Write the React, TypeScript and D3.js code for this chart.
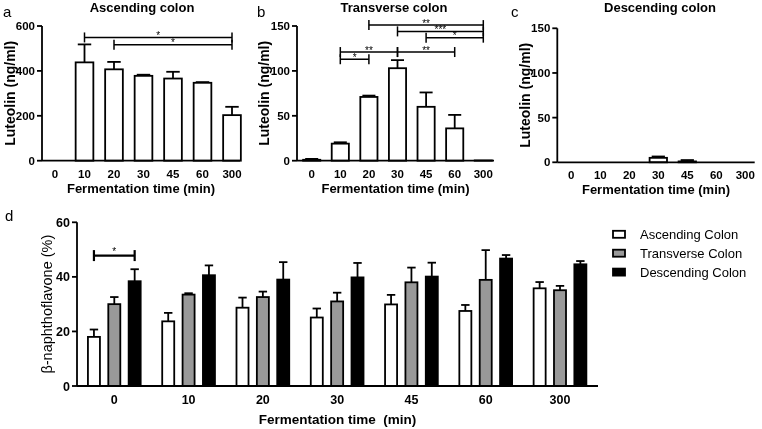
import React from "react";
import * as d3 from "d3";

const timeCats = ["0", "10", "20", "30", "45", "60", "300"];

// Panel a – Ascending colon (ng/ml)
const ascMean = [0, 438, 407, 378, 366, 347, 203];
const ascSd = [0, 80, 33, 5, 30, 3, 37];
const ascTicks = [0, 200, 400, 600];
const ascSig = [
  { from: "10", to: "300", level: 549, label: "*" },
  { from: "20", to: "300", level: 517, label: "*" },
];

// Panel b – Transverse colon
const trMean = [1, 19, 71, 103, 60, 36, 0.3];
const trSd = [1, 1.5, 1.5, 9, 16, 15, 0];
const trTicks = [0, 50, 100, 150];
const trSig = [
  { from: "20", to: "300", level: 151, label: "**" },
  { from: "30", to: "300", level: 144, label: "***" },
  { from: "45", to: "300", level: 137, label: "*" },
  { from: "10", to: "30", level: 121, label: "**" },
  { from: "30", to: "60", level: 121, label: "**" },
  { from: "10", to: "20", level: 113, label: "*" },
];

// Panel c – Descending colon
const deMean = [0, 0, 0, 5, 1, 0, 0];
const deSd = [0, 0, 0, 1.5, 1.5, 0, 0];
const deTicks = [0, 50, 100, 150];

// Panel d – β-naphthoflavone (%)
const seriesNames = ["Ascending Colon", "Transverse Colon", "Descending Colon"];
const seriesFill = ["#ffffff", "#999999", "#000000"];
const dAsc = [18, 23.7, 28.7, 25.1, 29.9, 27.5, 35.8];
const dAscSd = [2.7, 3.1, 3.7, 3.3, 3.5, 2.2, 2.3];
const dTr = [30, 33.5, 32.6, 31, 38, 38.9, 35.1];
const dTrSd = [2.6, 0.5, 2, 3.2, 5.4, 10.9, 1.6];
const dDe = [38.4, 40.6, 39, 39.8, 40.1, 46.7, 44.6];
const dDeSd = [4.4, 3.6, 6.4, 5.3, 5.1, 1.3, 1.2];
const dTicks = [0, 20, 40, 60];
const dSig = [{ group: "0", from: 0, to: 2, level: 47.8, label: "*" }];

const FONT = "'Liberation Sans', Arial, sans-serif";
const SW = 1.8;

type Sig = { from: string; to: string; level: number; label: string };

function Panel(props: {
  letter: string;
  title: string;
  mean: number[];
  sd: number[];
  ticks: number[];
  sig: Sig[];
  axisX: number;
  axisEnd: number;
  firstC: number;
  lastC: number;
  yTop: number;
  yBot: number;
  yMax: number;
  letterX: number;
  titleX: number;
  yLabelX: number;
}) {
  const p = props;
  const step = (p.lastC - p.firstC) / (timeCats.length - 1);
  const x = d3
    .scaleBand<string>()
    .domain(timeCats)
    .range([p.firstC - step / 2, p.lastC + step / 2])
    .paddingInner(0.4)
    .paddingOuter(0.2);
  const y = d3.scaleLinear().domain([0, p.yMax]).range([p.yBot, p.yTop]);
  const bw = x.bandwidth();
  const cx = (c: string) => (x(c) as number) + bw / 2;
  return (
    <g>
      <text x={p.letterX} y={17} fontSize={15} fontFamily={FONT}>
        {p.letter}
      </text>
      <text x={p.titleX} y={12} fontSize={13} fontWeight="bold" fontFamily={FONT} textAnchor="middle">
        {p.title}
      </text>
      {timeCats.map((c, i) => {
        const v = p.mean[i];
        if (v <= 0) return null;
        const top = y(v);
        const eTop = y(v + p.sd[i]);
        const x0 = x(c) as number;
        return (
          <g key={c}>
            {p.sd[i] > 0 && (
              <g stroke="#000" strokeWidth={SW}>
                <line x1={cx(c)} x2={cx(c)} y1={top} y2={eTop} />
                <line x1={cx(c) - bw * 0.38} x2={cx(c) + bw * 0.38} y1={eTop} y2={eTop} />
              </g>
            )}
            <rect x={x0} y={top} width={bw} height={p.yBot - top} fill="#fff" stroke="#000" strokeWidth={SW} />
          </g>
        );
      })}
      {/* axes */}
      <line x1={p.axisX} x2={p.axisX} y1={y(p.yMax)} y2={p.yBot} stroke="#000" strokeWidth={SW} />
      <line x1={p.axisX} x2={p.axisEnd} y1={p.yBot} y2={p.yBot} stroke="#000" strokeWidth={SW} />
      {p.ticks.map((t) => (
        <g key={t}>
          <line x1={p.axisX - 5} x2={p.axisX} y1={y(t)} y2={y(t)} stroke="#000" strokeWidth={SW} />
          <text
            x={p.axisX - 7}
            y={y(t)}
            dy="0.36em"
            textAnchor="end"
            fontSize={11.5}
            fontWeight="bold"
            fontFamily={FONT}
          >
            {t}
          </text>
        </g>
      ))}
      {timeCats.map((c) => (
        <text key={c} x={cx(c)} y={p.yBot + 17} textAnchor="middle" fontSize={11.5} fontWeight="bold" fontFamily={FONT}>
          {c}
        </text>
      ))}
      <text
        x={(p.axisX + p.axisEnd) / 2}
        y={p.yBot + 32}
        textAnchor="middle"
        fontSize={13}
        fontWeight="bold"
        fontFamily={FONT}
      >
        Fermentation time (min)
      </text>
      <text
        transform={`translate(${p.yLabelX},${(p.yTop + p.yBot) / 2}) rotate(-90)`}
        textAnchor="middle"
        dy="0.36em"
        fontSize={14}
        fontWeight="bold"
        fontFamily={FONT}
      >
        Luteolin (ng/ml)
      </text>
      {p.sig.map((s, i) => {
        const yy = y(s.level);
        const x1 = cx(s.from);
        const x2 = cx(s.to);
        return (
          <g key={i}>
            <g stroke="#000" strokeWidth={1.5}>
              <line x1={x1} x2={x2} y1={yy} y2={yy} />
              <line x1={x1} x2={x1} y1={yy - 5} y2={yy + 5} />
              <line x1={x2} x2={x2} y1={yy - 5} y2={yy + 5} />
            </g>
            <text x={(x1 + x2) / 2} y={yy + 1.5} textAnchor="middle" fontSize={10} fontFamily={FONT} fill="#000">
              {s.label}
            </text>
          </g>
        );
      })}
    </g>
  );
}

function PanelD() {
  const axisX = 77;
  const axisEnd = 598;
  const firstC = 114.3;
  const lastC = 560;
  const yTop = 222.3;
  const yBot = 386;
  const step = (lastC - firstC) / (timeCats.length - 1);
  const x0 = d3
    .scaleBand<string>()
    .domain(timeCats)
    .range([firstC - step / 2, lastC + step / 2])
    .paddingInner(0.29)
    .paddingOuter(0.145);
  const x1 = d3
    .scaleBand<number>()
    .domain([0, 1, 2])
    .range([0, x0.bandwidth()])
    .paddingInner(0.41)
    .paddingOuter(0);
  const y = d3.scaleLinear().domain([0, 60]).range([yBot, yTop]);
  const means = [dAsc, dTr, dDe];
  const sds = [dAscSd, dTrSd, dDeSd];
  const bw = x1.bandwidth();
  return (
    <g>
      <text x={5} y={221} fontSize={15} fontFamily={FONT}>
        d
      </text>
      {timeCats.map((c, i) => (
        <g key={c} transform={`translate(${x0(c)},0)`}>
          {[0, 1, 2].map((s) => {
            const v = means[s][i];
            const top = y(v);
            const eTop = y(v + sds[s][i]);
            const bx = x1(s) as number;
            const mx = bx + bw / 2;
            return (
              <g key={s}>
                <g stroke="#000" strokeWidth={SW}>
                  <line x1={mx} x2={mx} y1={top} y2={eTop} />
                  <line x1={mx - bw * 0.35} x2={mx + bw * 0.35} y1={eTop} y2={eTop} />
                </g>
                <rect x={bx} y={top} width={bw} height={yBot - top} fill={seriesFill[s]} stroke="#000" strokeWidth={SW} />
              </g>
            );
          })}
        </g>
      ))}
      <line x1={axisX} x2={axisX} y1={yTop} y2={yBot} stroke="#000" strokeWidth={SW} />
      <line x1={axisX} x2={axisEnd} y1={yBot} y2={yBot} stroke="#000" strokeWidth={SW} />
      {dTicks.map((t) => (
        <g key={t}>
          <line x1={axisX - 5} x2={axisX} y1={y(t)} y2={y(t)} stroke="#000" strokeWidth={SW} />
          <text x={axisX - 7} y={y(t)} dy="0.36em" textAnchor="end" fontSize={12.5} fontWeight="bold" fontFamily={FONT}>
            {t}
          </text>
        </g>
      ))}
      {timeCats.map((c) => (
        <text
          key={c}
          x={(x0(c) as number) + x0.bandwidth() / 2}
          y={404}
          textAnchor="middle"
          fontSize={12.5}
          fontWeight="bold"
          fontFamily={FONT}
        >
          {c}
        </text>
      ))}
      <text x={337.5} y={424} textAnchor="middle" fontSize={13.5} fontWeight="bold" fontFamily={FONT} style={{ whiteSpace: "pre" }}>
        {"Fermentation time  (min)"}
      </text>
      <text
        transform={`translate(47,${(yTop + yBot) / 2}) rotate(-90)`}
        textAnchor="middle"
        dy="0.36em"
        fontSize={14.5}
        fontFamily={FONT}
      >
        β-naphthoflavone (%)
      </text>
      {dSig.map((s, i) => {
        const g = x0(s.group) as number;
        const xa = g + (x1(s.from) as number) + bw / 2;
        const xb = g + (x1(s.to) as number) + bw / 2;
        const yy = y(s.level);
        return (
          <g key={i}>
            <g stroke="#000" strokeWidth={2.2}>
              <line x1={xa} x2={xb} y1={yy} y2={yy} />
              <line x1={xa} x2={xa} y1={yy - 5.5} y2={yy + 5.5} />
              <line x1={xb} x2={xb} y1={yy - 5.5} y2={yy + 5.5} />
            </g>
            <text x={(xa + xb) / 2} y={yy - 1} textAnchor="middle" fontSize={10} fontFamily={FONT}>
              {s.label}
            </text>
          </g>
        );
      })}
      {seriesNames.map((n, i) => {
        const ly = 234.3 + i * 18.9;
        return (
          <g key={n}>
            <rect x={613} y={ly - 3.5} width={12} height={7} fill={seriesFill[i]} stroke="#000" strokeWidth={SW} />
            <text x={640} y={ly} dy="0.36em" fontSize={13} fontFamily={FONT}>
              {n}
            </text>
          </g>
        );
      })}
    </g>
  );
}

export default function App() {
  return (
    <svg
      width={762}
      height={429}
      style={{ position: "absolute", left: 0, top: 0, background: "#fff", willChange: "transform" }}
    >
      <rect width={762} height={429} fill="#fff" />
      <Panel
        letter="a"
        title="Ascending colon"
        mean={ascMean}
        sd={ascSd}
        ticks={ascTicks}
        sig={ascSig}
        axisX={42}
        axisEnd={240}
        firstC={55}
        lastC={232}
        yTop={26}
        yBot={160.7}
        yMax={600}
        letterX={3}
        titleX={142}
        yLabelX={10}
      />
      <Panel
        letter="b"
        title="Transverse colon"
        mean={trMean}
        sd={trSd}
        ticks={trTicks}
        sig={trSig}
        axisX={297}
        axisEnd={494}
        firstC={311.7}
        lastC={483.3}
        yTop={26}
        yBot={160.7}
        yMax={150}
        letterX={257}
        titleX={394}
        yLabelX={264}
      />
      <Panel
        letter="c"
        title="Descending colon"
        mean={deMean}
        sd={deSd}
        ticks={deTicks}
        sig={[]}
        axisX={557.3}
        axisEnd={754.7}
        firstC={571.3}
        lastC={745.3}
        yTop={28.3}
        yBot={162.3}
        yMax={150}
        letterX={511}
        titleX={660}
        yLabelX={525}
      />
      <PanelD />
    </svg>
  );
}
